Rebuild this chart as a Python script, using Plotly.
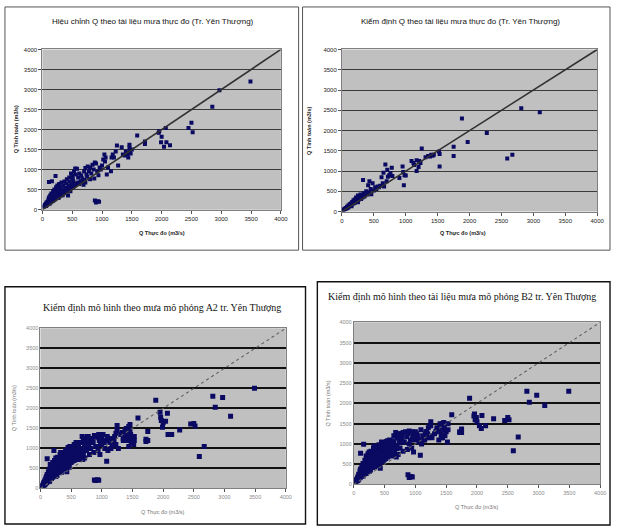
import plotly.graph_objects as go

W, H = 618, 530

# ---------------- data ----------------
# Calibration period (panel 1): observed and computed Q
q_obs_cal = [30, 40, 50, 60, 60, 70, 70, 80, 80, 90, 90, 100, 100, 110, 110, 110, 120, 120, 130, 130,
             140, 140, 150, 150, 160, 160, 160, 170, 180, 180, 180, 190, 200, 200, 200, 210, 220, 220, 220, 230,
             240, 240, 250, 250, 260, 270, 270, 280, 280, 290, 300, 300, 310, 320, 320, 330, 340, 350, 350, 360,
             370, 380, 380, 390, 400, 400, 410, 420, 420, 430, 440, 450, 450, 460, 470, 480, 480, 490, 500, 500,
             510, 520, 520, 530, 540, 550, 550, 560, 580, 580, 600, 600, 620, 620, 640, 650, 650, 670, 690, 700,
             700, 720, 720, 740, 750, 760, 780, 800, 800, 820, 840, 860, 870, 880, 880, 900, 900, 920, 930, 940,
             950, 960, 980, 1000, 1020, 1040, 1050, 1060, 1080, 1100, 1150, 1160, 1180, 1200, 1230, 1250, 1270, 1330, 1350, 1380,
             1400, 1420, 1440, 1460, 1460, 1470, 1480, 1500, 1590, 1720, 1720, 1950, 1960, 2000, 1990, 2040, 2080, 2140, 2070, 2450,
             2500, 2520, 2850, 2970, 3490]
q_sim_cal = [80, 120, 100, 150, 90, 180, 110, 130, 170, 200, 140, 160, 250, 690, 190, 300, 220, 150, 350, 180,
             260, 200, 400, 300, 710, 210, 240, 330, 450, 280, 220, 380, 500, 250, 300, 420, 840, 350, 280, 560,
             300, 450, 600, 330, 380, 520, 290, 640, 320, 450, 560, 380, 400, 680, 360, 500, 360, 600, 400, 450,
             700, 540, 420, 420, 650, 480, 760, 520, 460, 350, 600, 800, 520, 700, 460, 900, 540, 620, 850, 560,
             780, 700, 580, 950, 600, 1030, 620, 880, 1020, 650, 800, 680, 900, 640, 700, 850, 700, 780, 620, 950,
             740, 1040, 680, 880, 820, 1080, 960, 1050, 760, 900, 1120, 1000, 780, 1180, 230, 1150, 180, 950, 210, 860,
             200, 1050, 1000, 1100, 1250, 1380, 1200, 1300, 880, 1050, 960, 1300, 1380, 1300, 1450, 1600, 1100, 1560, 1380, 1350,
             1450, 1380, 1300, 1620, 1550, 1470, 1400, 1500, 1850, 1700, 1640, 1920, 1960, 1820, 1680, 1570, 1680, 1610, 2040, 2040,
             2170, 1930, 2570, 2980, 3200]

# Validation period (panel 2)
q_obs_val = [20, 30, 40, 50, 60, 60, 70, 80, 80, 90, 100, 100, 110, 120, 120, 130, 140, 150, 150, 150,
             160, 170, 180, 180, 190, 200, 200, 210, 220, 230, 240, 250, 250, 250, 260, 270, 280, 290, 300, 300,
             310, 320, 330, 340, 350, 360, 380, 400, 410, 420, 430, 450, 460, 480, 500, 520, 540, 560, 580, 600,
             620, 640, 650, 660, 680, 700, 710, 720, 740, 760, 780, 790, 900, 950, 960, 970, 980, 1000, 1090, 1120,
             1130, 1170, 1170, 1200, 1210, 1230, 1250, 1310, 1350, 1380, 1400, 1420, 1440, 1520, 1530, 1530, 1750, 1750, 1880, 1970,
             2270, 2590, 2670, 2810, 3100]
q_sim_val = [30, 50, 60, 70, 90, 70, 80, 120, 90, 100, 150, 110, 130, 180, 140, 160, 200, 170, 190, 130,
             240, 210, 280, 200, 230, 300, 220, 250, 350, 270, 320, 400, 260, 230, 290, 360, 330, 420, 310, 330,
             380, 350, 780, 450, 370, 400, 500, 420, 650, 480, 750, 560, 430, 700, 520, 600, 560, 620, 600, 640,
             850, 700, 960, 620, 1160, 750, 1030, 860, 900, 950, 1080, 880, 830, 1110, 980, 650, 900, 890, 1250, 1200,
             1150, 1270, 1000, 1100, 1250, 1200, 1560, 1340, 1370, 1360, 1400, 1380, 1400, 1480, 1420, 1110, 1600, 1370, 2300, 1720,
             1940, 1310, 1400, 2550, 2450]

# Simulated-rainfall runs (panels 3 and 4), same observed Q (calibration + validation)
q_sim_a2_cal = [60, 90, 120, 100, 150, 180, 130, 160, 220, 190, 260, 170, 300, 740, 230, 350, 280, 200, 420, 250,
                330, 220, 480, 380, 600, 260, 330, 450, 560, 320, 250, 470, 650, 300, 390, 530, 950, 420, 300, 700,
                350, 560, 760, 400, 480, 650, 330, 780, 400, 550, 700, 450, 520, 850, 420, 620, 400, 750, 480, 560,
                880, 680, 500, 520, 820, 560, 950, 650, 540, 420, 760, 1020, 600, 880, 530, 1050, 640, 780, 950, 650,
                900, 850, 680, 1000, 720, 1100, 700, 950, 1150, 750, 950, 780, 1050, 720, 820, 1000, 800, 900, 720, 1180,
                850, 1250, 760, 1000, 950, 1300, 1100, 1200, 850, 1000, 1250, 1150, 900, 1320, 210, 1280, 200, 1050, 215, 950,
                205, 1200, 1100, 1250, 1350, 1150, 1000, 1200, 680, 950, 1000, 1150, 1200, 1100, 1380, 1570, 1000, 1400, 1250, 1300,
                1500, 1200, 1050, 1600, 1450, 1350, 1150, 1250, 1760, 1230, 1170, 1900, 1780, 1640, 1530, 1680, 1350, 1350, 1880, 1610,
                1620, 1560, 2030, 2270, 2500]
q_sim_a2_val = [40, 70, 60, 110, 140, 80, 120, 200, 110, 150, 240, 140, 200, 290, 170, 250, 340, 220, 300, 180,
                400, 290, 460, 260, 350, 500, 280, 400, 580, 350, 480, 650, 350, 300, 420, 600, 500, 700, 400, 480,
                600, 500, 900, 700, 520, 620, 800, 600, 850, 700, 950, 820, 580, 900, 720, 850, 760, 880, 820, 900,
                1100, 950, 1150, 800, 1300, 1000, 1250, 1100, 1150, 1200, 1300, 1100, 1050, 1350, 1250, 850, 1150, 1100, 1300, 1250,
                1150, 1250, 1050, 1200, 1300, 1100, 1450, 1350, 1200, 1450, 1350, 1250, 1550, 1100, 1300, 1200, 1420, 1200, 2200, 1700,
                1460, 800, 1050, 2300, 1800]
q_sim_b2_cal = [70, 110, 90, 140, 120, 160, 200, 140, 250, 170, 230, 210, 330, 770, 190, 380, 250, 300, 450, 220,
                360, 280, 520, 340, 990, 240, 420, 400, 600, 350, 280, 500, 700, 270, 450, 560, 650, 480, 330, 760,
                380, 620, 800, 360, 520, 700, 360, 820, 430, 600, 750, 480, 560, 900, 450, 680, 430, 800, 520, 620,
                920, 720, 470, 560, 870, 600, 980, 700, 500, 400, 800, 1050, 650, 920, 560, 1000, 600, 820, 1020, 620,
                950, 880, 640, 1060, 760, 1080, 680, 1000, 1100, 720, 980, 760, 1080, 700, 850, 1050, 780, 950, 680, 1150,
                880, 1200, 740, 1050, 900, 1250, 1150, 1280, 820, 1050, 1300, 1180, 860, 1250, 240, 1320, 170, 1100, 200, 900,
                185, 1150, 1200, 1300, 1250, 1200, 1100, 1050, 720, 1000, 1100, 1250, 1300, 1150, 1450, 1550, 1150, 1300, 1400, 1100,
                1500, 1250, 1150, 1530, 1350, 1450, 1200, 1300, 1720, 1300, 1280, 1690, 1740, 1550, 1650, 1450, 1700, 1450, 1380, 1580,
                1650, 1600, 2030, 2200, 2300]
q_sim_b2_val = [50, 60, 90, 130, 100, 160, 110, 180, 140, 200, 220, 170, 260, 320, 200, 230, 300, 260, 400, 210,
                440, 330, 420, 300, 380, 550, 320, 360, 600, 400, 520, 620, 380, 320, 460, 560, 540, 650, 420, 520,
                640, 560, 950, 750, 500, 660, 760, 640, 900, 720, 900, 860, 620, 950, 760, 900, 720, 850, 860, 950,
                1050, 1000, 1200, 850, 1280, 950, 1200, 1150, 1100, 1250, 1200, 1050, 1000, 1300, 1200, 800, 1100, 1150, 1350, 1200,
                1100, 1300, 1150, 1250, 1400, 1200, 1450, 1250, 1350, 1300, 1400, 1150, 1500, 1050, 1350, 1500, 1370, 1280, 2130, 1600,
                1620, 830, 1170, 2300, 1950]

line_1to1 = [0, 4000]
axis_ticks = [0, 500, 1000, 1500, 2000, 2500, 3000, 3500, 4000]

titles = [
    "Hiệu chỉnh Q theo tài liệu mưa thực đo (Tr. Yên Thượng)",
    "Kiểm định Q theo tài liệu mưa thực đo (Tr. Yên Thượng)",
    "Kiểm định mô hình theo mưa mô phỏng A2 tr. Yên Thượng",
    "Kiểm định mô hình theo tài liệu mưa mô phỏng B2 tr. Yên Thượng",
]
x_title = "Q Thực đo (m3/s)"
y_title = "Q Tính toán (m3/s)"

# ---------------- layout helpers (pixels) ----------------
def px(x):
    return x / W

def py(y):
    return 1 - y / H

panels = [
    # plot area (x0, x1, ytop, ybottom), border (x0, y0, x1, y1)
    dict(area=(41, 283, 47, 209), border=(3, 4, 301, 250), style="top",
         title_xy=(153, 19), xt_xy=(162, 233), yt_xy=(14, 128)),
    dict(area=(345, 604, 47, 211), border=(305, 4, 617, 250), style="top",
         title_xy=(465, 19), xt_xy=(468, 233), yt_xy=(311, 129)),
    dict(area=(39, 288, 329, 491), border=(3, 287, 308, 527), style="bottom",
         title_xy=(162, 308), xt_xy=(163, 515), yt_xy=(13, 410)),
    dict(area=(357, 607, 323, 487), border=(320, 282, 617, 528), style="bottom",
         title_xy=(467, 297), xt_xy=(482, 510), yt_xy=(331, 405)),
]

series = [
    (q_obs_cal, q_sim_cal),
    (q_obs_val, q_sim_val),
    (q_obs_cal + q_obs_val, q_sim_a2_cal + q_sim_a2_val),
    (q_obs_cal + q_obs_val, q_sim_b2_cal + q_sim_b2_val),
]

fig = go.Figure()
shapes = []
annotations = []
layout_axes = {}

for i, (p, (xs, ys)) in enumerate(zip(panels, series)):
    n = "" if i == 0 else str(i + 1)
    xa, ya = "x" + n, "y" + n
    top = p["style"] == "top"
    ax0, ax1, ayt, ayb = p["area"]
    tick_col = "#222222" if top else "#8a8a8a"
    tick_size = 6 if top else 5.5

    fig.add_trace(go.Scatter(x=xs, y=ys, mode="markers", xaxis=xa, yaxis=ya,
                             marker=dict(symbol="square", size=4 if top else 5,
                                         color="#0a0a62", line=dict(width=0)),
                             showlegend=False, hoverinfo="x+y"))
    fig.add_trace(go.Scatter(x=line_1to1, y=line_1to1, mode="lines", xaxis=xa, yaxis=ya,
                             line=dict(color="#303030" if top else "#606060",
                                       width=1.6 if top else 1.1,
                                       dash="solid" if top else "dot"),
                             showlegend=False, hoverinfo="skip"))

    layout_axes["xaxis" + n] = dict(
        domain=[px(ax0), px(ax1)], range=[0, 4000], anchor=ya,
        tickvals=axis_ticks, showgrid=False, zeroline=False,
        showline=True, linecolor="#808080", linewidth=1, mirror=True,
        ticks="outside", ticklen=3, tickcolor="#555555",
        tickfont=dict(family="Liberation Sans", size=tick_size, color=tick_col),
        fixedrange=True)
    layout_axes["yaxis" + n] = dict(
        domain=[py(ayb), py(ayt)], range=[0, 4000], anchor=xa,
        tickvals=axis_ticks, showgrid=True,
        gridcolor="#3a3a3a" if top else "#111111", gridwidth=1 if top else 1.6,
        zeroline=False, showline=True, linecolor="#808080", linewidth=1, mirror=True,
        ticks="outside", ticklen=3 if top else 0, tickcolor="#555555",
        tickfont=dict(family="Liberation Sans", size=tick_size, color=tick_col),
        fixedrange=True)

    # plot-area background
    shapes.append(dict(type="rect", xref="paper", yref="paper", layer="below",
                       x0=px(ax0), x1=px(ax1), y0=py(ayb), y1=py(ayt),
                       fillcolor="#c0c0c0", line=dict(width=0)))
    # chart border
    bx0, by0, bx1, by1 = p["border"]
    shapes.append(dict(type="rect", xref="paper", yref="paper", layer="below",
                       x0=px(bx0), x1=px(bx1), y0=py(by1), y1=py(by0),
                       fillcolor="rgba(0,0,0,0)",
                       line=dict(color="#555555" if top else "#111111", width=1 if top else 1.4)))

    tx, ty = p["title_xy"]
    annotations.append(dict(xref="paper", yref="paper", x=px(tx), y=py(ty), text=titles[i],
                            showarrow=False, xanchor="center", yanchor="middle",
                            font=dict(family="Liberation Sans" if top else "Liberation Serif",
                                      size=8 if top else 10, color="#111111")))
    xx, xy = p["xt_xy"]
    annotations.append(dict(xref="paper", yref="paper", x=px(xx), y=py(xy),
                            text=("<b>%s</b>" % x_title) if top else x_title,
                            showarrow=False, xanchor="center", yanchor="middle",
                            font=dict(family="Liberation Sans", size=5.5,
                                      color="#222222" if top else "#777777")))
    yx, yy = p["yt_xy"]
    annotations.append(dict(xref="paper", yref="paper", x=px(yx), y=py(yy),
                            text=("<b>%s</b>" % y_title) if top else y_title,
                            showarrow=False, textangle=-90, xanchor="center", yanchor="middle",
                            font=dict(family="Liberation Sans", size=5.5,
                                      color="#222222" if top else "#777777")))

fig.update_layout(width=W, height=H, margin=dict(l=0, r=0, t=0, b=0),
                  paper_bgcolor="white", plot_bgcolor="rgba(0,0,0,0)",
                  shapes=shapes, annotations=annotations, **layout_axes)

fig.write_html("out.html", config={"displayModeBar": False},
               post_script="document.body.style.margin='0';document.body.style.overflow='hidden';")
